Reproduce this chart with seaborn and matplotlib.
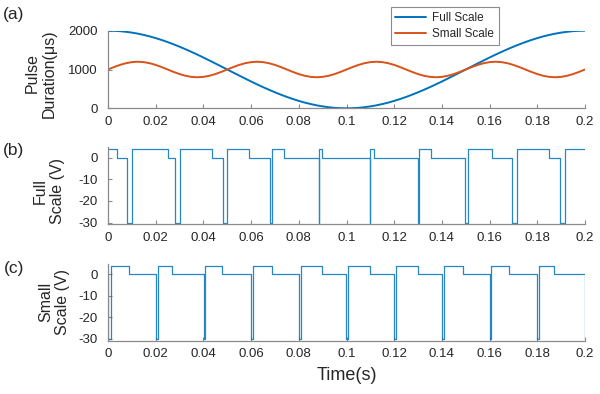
import numpy as np
import pandas as pd
import matplotlib
matplotlib.use("Agg")
import matplotlib.pyplot as plt
import seaborn as sns

# ---------------- data ----------------
t_a = [i * 0.0025 for i in range(81)]
full_scale_us = [2000, 1997, 1988, 1972, 1951, 1924, 1891, 1853, 1809, 1760,
                 1707, 1649, 1588, 1522, 1454, 1383, 1309, 1233, 1156, 1078,
                 1000, 922, 844, 767, 691, 617, 546, 478, 412, 351,
                 293, 240, 191, 147, 109, 76, 49, 28, 12, 3,
                 0, 3, 12, 28, 49, 76, 109, 147, 191, 240,
                 293, 351, 412, 478, 546, 617, 691, 767, 844, 922,
                 1000, 1078, 1156, 1233, 1309, 1383, 1454, 1522, 1588, 1649,
                 1707, 1760, 1809, 1853, 1891, 1924, 1951, 1972, 1988, 1997,
                 2000]
small_scale_us = [1000, 1062, 1118, 1162, 1190, 1200, 1190, 1162, 1118, 1062,
                  1000, 938, 882, 838, 810, 800, 810, 838, 882, 938,
                  1000, 1062, 1118, 1162, 1190, 1200, 1190, 1162, 1118, 1062,
                  1000, 938, 882, 838, 810, 800, 810, 838, 882, 938,
                  1000, 1062, 1118, 1162, 1190, 1200, 1190, 1162, 1118, 1062,
                  1000, 938, 882, 838, 810, 800, 810, 838, 882, 938,
                  1000, 1062, 1118, 1162, 1190, 1200, 1190, 1162, 1118, 1062,
                  1000, 938, 882, 838, 810, 800, 810, 838, 882, 938,
                  1000]

# Full-scale waveform (step transitions)
t_b = [0, 0.0036, 0.0081, 0.0102, 0.0250, 0.0282, 0.0302, 0.0435, 0.0481, 0.0498,
       0.0593, 0.0681, 0.0689, 0.0739, 0.0883, 0.0884, 0.0899, 0.1098, 0.1099, 0.1115,
       0.1298, 0.1303, 0.1354, 0.1497, 0.1510, 0.1608, 0.1694, 0.1713, 0.1849, 0.1895,
       0.1916, 0.2]
v_b = [4, 0, -30, 4, 0, -30, 4, 0, -30, 4,
       0, -30, 4, 0, -30, 4, 0, -30, 4, 0,
       -30, 4, 0, -30, 4, 0, -30, 4, 0, -30,
       4, 4]

# Small-scale waveform (step transitions)
t_c = [0, 0, 0.0011, 0.0086, 0.0201, 0.0209, 0.0270, 0.0401, 0.0408, 0.0478,
       0.0601, 0.0609, 0.0689, 0.0800, 0.0808, 0.0896, 0.0999, 0.1007, 0.1099, 0.1200,
       0.1208, 0.1300, 0.1400, 0.1409, 0.1487, 0.1600, 0.1607, 0.1680, 0.1800, 0.1808,
       0.1872, 0.2]
v_c = [0, -30, 4, 0, -30, 4, 0, -30, 4, 0,
       -30, 4, 0, -30, 4, 0, -30, 4, 0, -30,
       4, 0, -30, 4, 0, -30, 4, 0, -30, 4,
       0, -30]

x_ticks = [0, 0.02, 0.04, 0.06, 0.08, 0.1, 0.12, 0.14, 0.16, 0.18, 0.2]
x_ticklabels = ["0", "0.02", "0.04", "0.06", "0.08", "0.1", "0.12", "0.14", "0.16", "0.18", "0.2"]
ya_ticks = [0, 1000, 2000]
yv_ticks = [0, -10, -20, -30]
series_names = ["Full Scale", "Small Scale"]
panel_tags = ["(a)", "(b)", "(c)"]

# ---------------- style ----------------
sns.set_theme(style="ticks")
plt.rcParams["font.family"] = ["Liberation Sans", "DejaVu Sans"]
plt.rcParams["axes.unicode_minus"] = False

BLUE = "#0072BD"
ORANGE = "#D95319"
SPINE = "#8a8a8a"
TXT = "#262626"

fig = plt.figure(figsize=(6.0, 3.94), dpi=100)
left, width = 108 / 600, 477 / 600
ax_a = fig.add_axes([left, 1 - 108.3 / 394, width, 77.6 / 394])
ax_b = fig.add_axes([left, 1 - 224.3 / 394, width, 77.0 / 394])
ax_c = fig.add_axes([left, 1 - 340.7 / 394, width, 76.7 / 394])

df_a = pd.DataFrame({
    "t": t_a * 2,
    "us": full_scale_us + small_scale_us,
    "series": [series_names[0]] * len(t_a) + [series_names[1]] * len(t_a),
})
sns.lineplot(data=df_a, x="t", y="us", hue="series", palette=[BLUE, ORANGE],
             estimator=None, sort=False, linewidth=1.4, ax=ax_a)

df_b = pd.DataFrame({"t": t_b, "v": v_b})
sns.lineplot(data=df_b, x="t", y="v", color=BLUE, estimator=None, sort=False,
             drawstyle="steps-post", linewidth=0.9, alpha=0.85, ax=ax_b)
df_c = pd.DataFrame({"t": t_c, "v": v_c})
sns.lineplot(data=df_c, x="t", y="v", color=BLUE, estimator=None, sort=False,
             drawstyle="steps-post", linewidth=0.9, alpha=0.85, ax=ax_c)

for ax in (ax_a, ax_b, ax_c):
    sns.despine(ax=ax)
    ax.set_xlim(0, 0.2)
    ax.set_xticks(x_ticks)
    ax.set_xticklabels(x_ticklabels)
    for s in ("left", "bottom"):
        ax.spines[s].set_color(SPINE)
        ax.spines[s].set_linewidth(0.9)
    ax.tick_params(axis="both", direction="in", length=3, width=0.8, color=SPINE,
                   labelsize=9.5, labelcolor=TXT)
    ax.tick_params(axis="x", pad=5.5)
    ax.tick_params(axis="y", pad=7.5)
    ax.set_xlabel("")
    ax.set_facecolor("white")

ax_a.set_ylim(0, 2000)
ax_a.set_yticks(ya_ticks)
for ax in (ax_b, ax_c):
    ax.set_ylim(-30.8, 4.8)
    ax.set_yticks(yv_ticks)

lab_kw = dict(fontsize=11.5, color=TXT, linespacing=1.15)
ax_a.set_ylabel("Pulse\nDuration(\u03bcs)", **lab_kw)
ax_a.yaxis.set_label_coords((57 - 108) / 477, 0.45)
ax_b.set_ylabel("Full\nScale (V)", **lab_kw)
ax_b.yaxis.set_label_coords((65 - 108) / 477, 0.43)
ax_c.set_ylabel("Small\nScale (V)", **lab_kw)
ax_c.yaxis.set_label_coords((70 - 108) / 477, 0.5)

ax_c.set_xlabel("Time(s)", fontsize=13, color=TXT)
ax_c.xaxis.set_label_coords(0.5, (340.7 - 367) / 76.7)
ax_c.xaxis.label.set_va("top")

leg = ax_a.legend(loc="upper left", bbox_to_anchor=(390.7 / 600, 1 - 7.3 / 394),
                  bbox_transform=fig.transFigure, frameon=True, fancybox=False,
                  fontsize=8.5, handlelength=2.6, labelspacing=0.35,
                  borderpad=0.4, handletextpad=0.5, borderaxespad=0)
leg.get_frame().set_edgecolor("#6e6e6e")
leg.get_frame().set_linewidth(0.8)
for txt in leg.get_texts():
    txt.set_color(TXT)
leg.set_title(None)

for tag, y in zip(panel_tags, (15, 151, 269)):
    fig.text(14 / 600, 1 - y / 394, tag, fontsize=12.5, color=TXT, ha="center", va="center")

fig.savefig("out.png", dpi=100, facecolor="white")
